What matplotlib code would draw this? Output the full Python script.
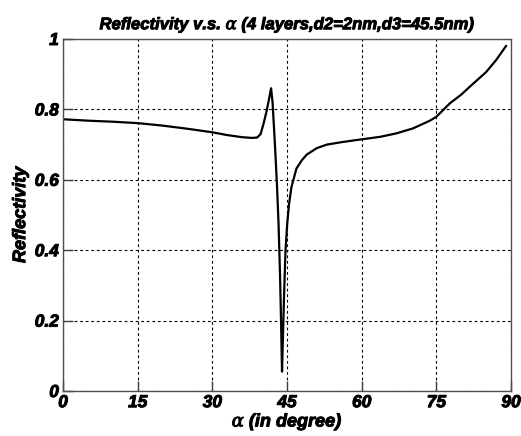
import matplotlib
matplotlib.use("Agg")
import matplotlib.pyplot as plt
import matplotlib.patheffects as pe

# Incidence angle (degrees) and reflectivity of the 4-layer stack
alpha_deg = [0, 5, 10, 15, 20, 25, 30, 33, 36, 38, 39, 39.7, 40.3, 40.9, 41.4,
             41.8, 42.1, 42.6, 43.0, 43.3, 43.6, 43.8, 44.0, 44.2, 44.4, 44.7,
             45.05, 45.4, 45.9, 46.9, 48.0, 49.0, 51.0, 53.0, 56.0, 60, 63.7,
             67, 70.3, 73.7, 75, 77.7, 80, 82, 85, 87, 89]
reflectivity = [0.772, 0.768, 0.765, 0.761, 0.754, 0.745, 0.735, 0.727, 0.721,
                0.719, 0.720, 0.730, 0.760, 0.795, 0.830, 0.860, 0.820, 0.694,
                0.580, 0.476, 0.330, 0.200, 0.055, 0.160, 0.268, 0.400, 0.476,
                0.530, 0.580, 0.632, 0.656, 0.672, 0.690, 0.700, 0.707, 0.715,
                0.722, 0.732, 0.746, 0.768, 0.779, 0.817, 0.842, 0.868, 0.906,
                0.940, 0.980]

x_ticks = [0, 15, 30, 45, 60, 75, 90]
y_ticks = [0, 0.2, 0.4, 0.6, 0.8, 1]
y_tick_labels = ["0", "0.2", "0.4", "0.6", "0.8", "1"]

plt.rcParams["font.family"] = ["Liberation Sans", "DejaVu Sans"]
plt.rcParams["mathtext.fontset"] = "dejavuserif"

heavy = [pe.withStroke(linewidth=0.7, foreground="black")]

fig = plt.figure(figsize=(5.21, 4.36), dpi=100)
ax = fig.add_axes([63 / 521, 1 - 391 / 436, 448 / 521, 352 / 436])

ax.plot(alpha_deg, reflectivity, color="black", linewidth=1.6)

ax.set_xlim(0, 90)
ax.set_ylim(0, 1)
ax.set_xticks(x_ticks)
ax.set_xticklabels([str(t) for t in x_ticks])
ax.set_yticks(y_ticks)
ax.set_yticklabels(y_tick_labels)

lab_font = dict(fontsize=13, fontweight="bold", fontstyle="italic")
for lbl in ax.get_xticklabels() + ax.get_yticklabels():
    lbl.set_fontsize(12.5)
    lbl.set_fontweight("bold")
    lbl.set_fontstyle("italic")
    lbl.set_path_effects(heavy)

ax.tick_params(direction="in", length=7, width=1, color="#404040",
               top=False, right=False, pad=3)

ax.grid(True, color="black", linestyle=(0, (2.5, 2.5)), linewidth=0.8)

for sp in ax.spines.values():
    sp.set_color("#505050")
    sp.set_linewidth(1)

t = ax.set_title(r"Reflectivity v.s. $\alpha$ (4 layers,d2=2nm,d3=45.5nm)",
                 pad=7, fontsize=12, fontweight="bold", fontstyle="italic")
t.set_path_effects(heavy)
xl = ax.set_xlabel(r"$\alpha$ (in degree)", labelpad=1, **lab_font)
xl.set_path_effects(heavy)
yl = ax.set_ylabel("Reflectivity", labelpad=4, **lab_font)
yl.set_path_effects(heavy)

fig.savefig("out.png", dpi=100, facecolor="white")
